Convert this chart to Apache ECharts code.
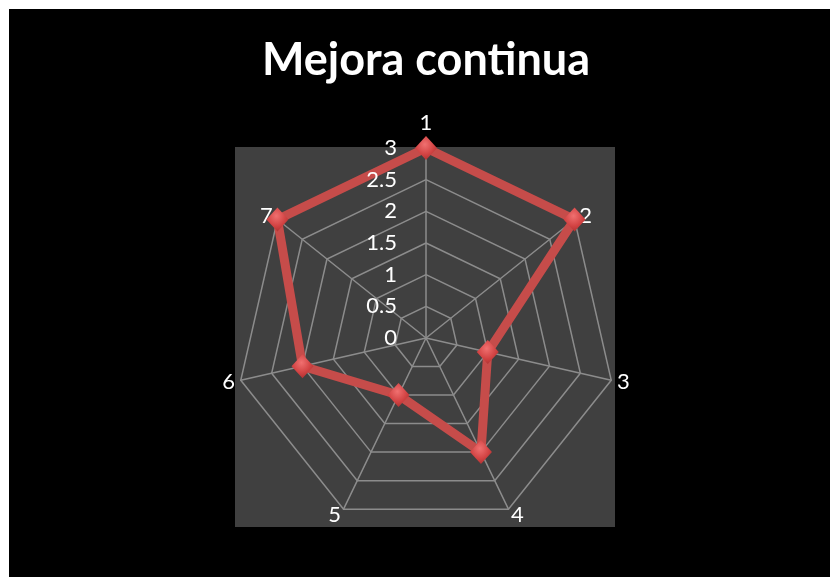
<!DOCTYPE html>
<html>
<head>
<meta charset="utf-8">
<style>
  html, body { margin: 0; padding: 0; background: #000; overflow: hidden; }
  #chart { width: 830px; height: 577px; }
</style>
<script src="https://cdn.jsdelivr.net/npm/echarts@6/dist/echarts.min.js"></script>
</head>
<body>
<div id="chart"></div>
<script>
// Radar categories (clockwise from the top) and their scores
const categories = ['1', '2', '3', '4', '5', '6', '7'];
const values = [3, 3, 1, 2, 1, 2, 3];
// Value scale for the rings
const scaleMin = 0;
const scaleMax = 3;
const scaleStep = 0.5;

// ECharts lays radar indicators out counter-clockwise, so keep the first
// one on top and reverse the rest to get a clockwise reading order.
const order = [0].concat(categories.map((_, i) => i).slice(1).reverse());
const indicators = order.map(i => ({ name: categories[i], min: scaleMin, max: scaleMax }));
const orderedValues = order.map(i => values[i]);

const font = 'Lato, "Open Sans", sans-serif';
const center = [426, 338];
const radius = 190;

const chart = echarts.init(document.getElementById('chart'), null, { renderer: 'canvas' });
chart.setOption({
  backgroundColor: '#000',
  animation: false,
  title: {
    text: 'Mejora continua',
    left: 421,
    top: 33,
    textAlign: 'center',
    textStyle: { color: '#fff', fontSize: 45, fontWeight: 'bold', fontFamily: font }
  },
  graphic: [
    { type: 'rect', shape: { x: 0, y: 0, width: 830, height: 9 }, style: { fill: '#fff' }, silent: true },
    { type: 'rect', shape: { x: 0, y: 0, width: 9, height: 577 }, style: { fill: '#fff' }, silent: true }
  ],
  grid: [
    // plot area panel
    { left: 235, top: 147, width: 380, height: 380, show: true, backgroundColor: '#404040', borderWidth: 0, z: 0 },
    // vertical value scale along the top spoke
    { left: center[0], top: center[1] - radius, width: 1, height: radius, show: false }
  ],
  xAxis: [
    { gridIndex: 0, type: 'value', show: false },
    { gridIndex: 1, type: 'value', show: false }
  ],
  yAxis: [
    { gridIndex: 0, type: 'value', show: false },
    {
      gridIndex: 1, type: 'value', min: scaleMin, max: scaleMax, interval: scaleStep,
      position: 'left',
      axisLine: { show: false }, axisTick: { show: false }, splitLine: { show: false },
      axisLabel: { color: '#fff', fontSize: 22, fontFamily: font, margin: 29 },
      z: 5
    }
  ],
  radar: {
    center: center,
    radius: radius,
    startAngle: 90,
    shape: 'polygon',
    splitNumber: (scaleMax - scaleMin) / scaleStep,
    indicator: indicators,
    axisName: {
      color: '#fff', fontSize: 22, fontFamily: font,
      formatter: name => (name === categories[0] ? '{top|' + name + '}' : name),
      rich: { top: { color: '#fff', fontSize: 22, fontFamily: font, padding: [0, 0, 8, 0] } }
    },
    nameGap: 6,
    axisLine: { lineStyle: { color: '#8c8c8c', width: 1.5 } },
    splitLine: { lineStyle: { color: '#8c8c8c', width: 1.5 } },
    splitArea: { show: false },
    axisTick: { show: false },
    axisLabel: { show: false },
    z: 2
  },
  series: [{
    type: 'radar',
    z: 4,
    symbol: 'diamond',
    symbolSize: [22, 24],
    lineStyle: { color: '#c64c4a', width: 9, join: 'round' },
    itemStyle: {
      color: {
        type: 'radial', x: 0.45, y: 0.35, r: 0.7,
        colorStops: [
          { offset: 0, color: '#f07070' },
          { offset: 0.6, color: '#d24343' },
          { offset: 1, color: '#a92f2f' }
        ]
      },
      borderWidth: 0
    },
    data: [{ value: orderedValues, name: 'Mejora continua' }]
  }]
});
</script>
</body>
</html>
